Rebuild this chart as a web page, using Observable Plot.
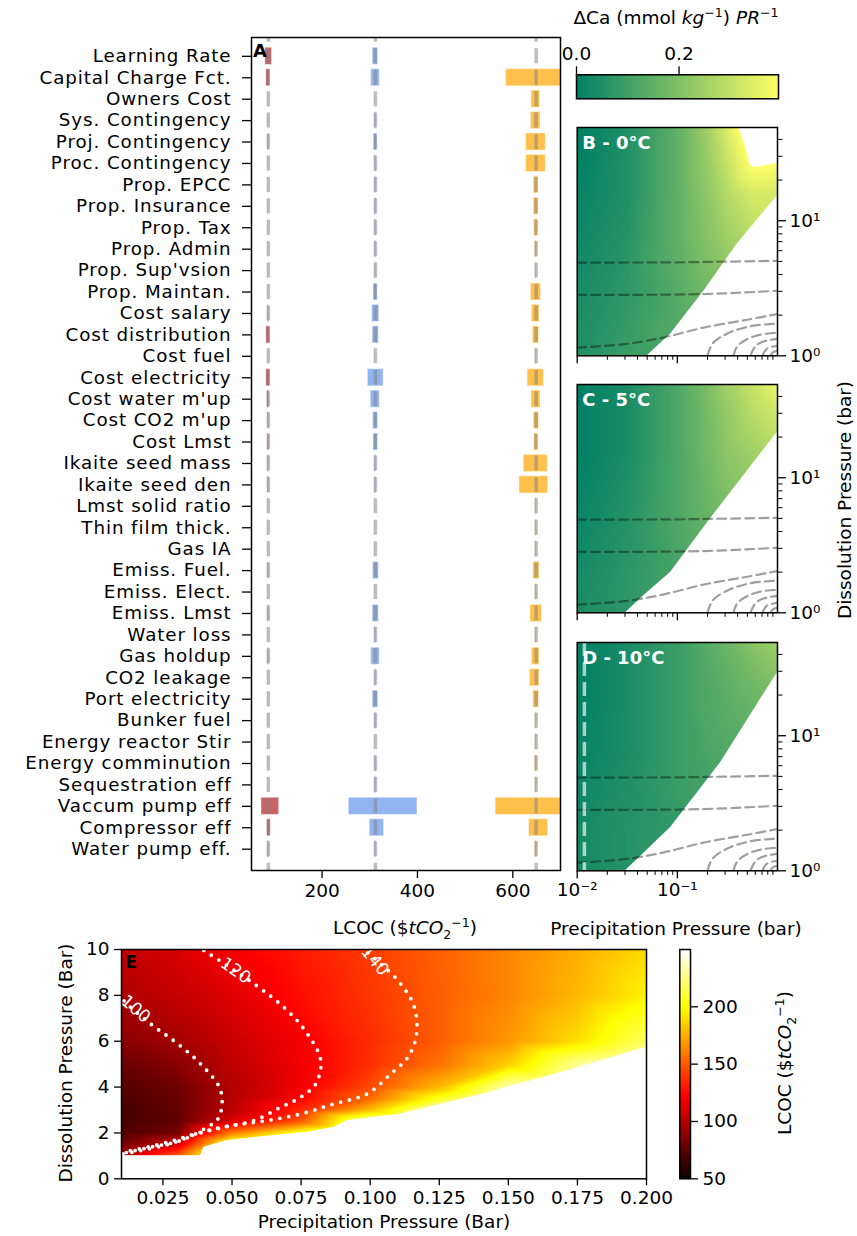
<!DOCTYPE html>
<html><head><meta charset="utf-8">
<script src="https://cdn.jsdelivr.net/npm/d3@7"></script>
<script src="https://cdn.jsdelivr.net/npm/@observablehq/plot@0.6"></script>
<style>
body{margin:0;background:white;}
#fig{position:relative;width:857px;height:1236px;font-family:"DejaVu Sans";color:black;overflow:hidden;background:white;}
#fig svg{position:absolute;}
.lab{position:absolute;font-size:18.5px;white-space:nowrap;transform:translate(-50%,-50%);line-height:1;}
.rot{transform:translate(-50%,-50%) rotate(-90deg);}
.lab sub,.lab sup{font-size:68%;}
.pa g[aria-label="y-axis tick label"] text{letter-spacing:0.9px;}
</style></head><body><div id="fig"></div>
<script>
// ---------------- Panel A data ----------------
const categories = ["Learning Rate","Capital Charge Fct.","Owners Cost","Sys. Contingency","Proj. Contingency","Proc. Contingency","Prop. EPCC","Prop. Insurance","Prop. Tax","Prop. Admin","Prop. Sup'vsion","Prop. Maintan.","Cost salary","Cost distribution","Cost fuel","Cost electricity","Cost water m'up","Cost CO2 m'up","Cost Lmst","Ikaite seed mass","Ikaite seed den","Lmst solid ratio","Thin film thick.","Gas IA","Emiss. Fuel.","Emiss. Elect.","Emiss. Lmst","Water loss","Gas holdup","CO2 leakage","Port electricity","Bunker fuel","Energy reactor Stir","Energy comminution","Sequestration eff","Vaccum pump eff","Compressor eff","Water pump eff."];
const baselines = [87.4, 311.8, 648.9];
const redLow  = [81,83,87.2,87.2,86.3,87.2,87.2,87.2,87.2,87.2,87.2,87.2,86.3,83,87.2,83,85,86.3,86,86.3,86.3,87.2,87.2,87.2,86.3,87.2,86.3,87.2,86.3,87.2,87.2,87.2,87.2,87.2,87.2,73,85,86.3];
const redHigh = [95,91,87.6,87.6,88.5,87.6,87.6,87.6,87.6,87.6,87.6,87.6,88.5,91,87.6,91,89,88.5,89,88.5,88.5,87.6,87.6,87.6,88.5,87.6,88.5,87.6,88.5,87.6,87.6,87.6,87.6,87.6,87.6,110,92,88.5];
const blueLow  = [306,303,311.6,310.5,308.5,310.5,310.5,310.5,310.5,310.5,311,308,305,306,311.6,296,302,307,308,310.5,310.5,311.6,311.6,311.6,307,311.6,306,310.5,303,310.5,306,310.5,311.6,310.5,310.5,256,300,310.5];
const blueHigh = [317,321,312,313.5,315.5,313.5,313.5,313.5,313.5,313.5,313,316,320,319,312,329,321,317,317,313.5,313.5,312,312,312,319,312,319,313.5,321,313.5,317.5,313.5,312,313.5,313.5,400,330,313.5];
const orangeLow  = [648.7,586,639,638,628,628,644,644,645,647,648,638,640,642,648,631,639,644,645,623,614,648,648,648,643,648,637,648,640,636,643,648,648,647,648,564,634,647];
const orangeHigh = [649.1,720,657,658,669,669,653,653,652,651,650,659,656,655,650,665,658,655,652,673,674,650.5,650.5,650.5,656,650.5,661,650.5,656,656,655,650.5,650.5,651,650.5,720,674,651];
const aTicks = [200, 400, 600];

// ---------------- Panels B-D data (ΔCa field, sampled on a log grid) ----------------
const gridX = [0.01, 0.0316, 0.1, 0.178, 0.316, 0.562, 1];
const gridY = [1, 2, 4, 7.9, 15.8, 28.2, 49];
const valuesB = [
  [0.05,0.09,0.12,0.14,0.16,0.17,0.18],
  [0.04,0.08,0.13,0.16,0.19,0.21,0.22],
  [0.03,0.07,0.14,0.18,0.22,0.25,0.27],
  [0.02,0.06,0.15,0.20,0.25,0.29,0.31],
  [0.01,0.05,0.15,0.21,0.28,0.33,0.33],
  [0.00,0.05,0.15,0.22,0.31,0.41,0.40],
  [0.00,0.05,0.15,0.23,0.34,0.46,0.50]];
const valuesC = [
  [0.04,0.07,0.10,0.12,0.13,0.14,0.14],
  [0.03,0.07,0.11,0.13,0.15,0.17,0.18],
  [0.02,0.06,0.12,0.15,0.18,0.20,0.21],
  [0.01,0.05,0.12,0.16,0.20,0.22,0.24],
  [0.00,0.04,0.12,0.17,0.22,0.25,0.28],
  [0.00,0.04,0.12,0.17,0.23,0.28,0.32],
  [0.00,0.04,0.12,0.18,0.25,0.31,0.37]];
const valuesD = [
  [0.03,0.06,0.07,0.08,0.09,0.09,0.09],
  [0.03,0.06,0.08,0.09,0.10,0.11,0.11],
  [0.02,0.05,0.09,0.10,0.12,0.13,0.13],
  [0.01,0.04,0.09,0.11,0.13,0.14,0.15],
  [0.00,0.04,0.09,0.12,0.14,0.16,0.18],
  [0.00,0.04,0.09,0.12,0.15,0.18,0.21],
  [0.00,0.04,0.09,0.13,0.17,0.21,0.25]];
const boundaryB = [[0.0501,1],[0.0857,1.45],[0.1845,3.02],[0.398,6.76],[1,15.3]];
const boundaryC = [[0.0304,1],[0.0447,1.31],[0.0857,2.0],[0.215,4.99],[1,21.8]];
const boundaryD = [[0.0304,1],[0.0857,2.09],[0.271,6.34],[1,29.4]];
const isoLine1 = [[0.01,4.9],[0.1,4.92],[0.3,4.98],[1,5.05]];
const isoLine2 = [[0.01,2.83],[0.1,2.84],[0.3,2.9],[0.6,2.97],[1,3.03]];
const isoLine3 = [[0.01,1.15],[0.03,1.22],[0.0735,1.37],[0.185,1.62],[0.5,1.85],[1,2.04]];
const isoArc4 = [[0.2,1],[0.2254,1.233],[0.32,1.47],[0.54,1.656],[1,1.73]];
const isoArc5 = [[0.363,1],[0.392,1.162],[0.489,1.32],[0.679,1.436],[1,1.48]];
const isoArc6 = [[0.537,1],[0.58,1.13],[0.644,1.227],[0.8,1.3],[1,1.337]];
const isoArc7 = [[0.708,1],[0.783,1.129],[1,1.186]];
const isoArc8 = [[0.851,1],[0.9,1.06],[1,1.089]];
const dLineX = [0.0118];
const bcdXMajor = [0.01, 0.1], bcdXLabels = ["10\u207B\u00B2", "10\u207B\u00B9"];
const bcdXMinor = [0.02,0.03,0.04,0.05,0.06,0.07,0.08,0.09,0.2,0.3,0.4,0.5,0.6,0.7,0.8,0.9];
const bcdYMajor = [1, 10], bcdYLabels = ["10\u2070", "10\u00B9"];
const bcdYMinor = [2,3,4,5,6,7,8,9,20,30,40];
const cbTopTicks = [0.0, 0.2];

// ---------------- Panel E data (LCOC field) ----------------
const eGridX = [0.01, 0.03, 0.05, 0.075, 0.1, 0.125, 0.15, 0.175, 0.2];
const eGridY = [1, 1.5, 2, 2.5, 3, 3.5, 4, 5, 6, 8, 10];
const eValues = [
  [ 95,150,235,245,245,245,245,245,245],
  [ 80,110,215,245,245,245,245,245,245],
  [ 70, 82,160,205,245,245,245,245,245],
  [ 68, 76,112,150,235,245,245,245,245],
  [ 68, 76,103,134,180,245,245,245,245],
  [ 70, 78,101,123,156,205,245,245,245],
  [ 72, 80,100,120,145,178,235,245,245],
  [ 78, 88,104,120,137,157,185,228,245],
  [ 88, 96,107,121,136,151,168,190,218],
  [ 99,106,114,127,139,151,163,178,196],
  [105,112,121,131,141,152,163,175,188]];
const boundaryE = [[0.01,1],[0.0386,1],[0.0398,1.38],[0.0483,1.67],[0.0652,1.89],[0.0773,2.03],[0.087,2.25],[0.0918,2.54],[0.111,2.83],[0.1413,3.71],[0.1716,4.72],[0.2,5.74]];
const contour100 = [[0.0095,8.1],[0.0103,7.85],[0.0205,6.76],[0.0296,5.96],[0.0387,5.0],[0.0459,3.85],[0.0453,2.69],[0.041,2.25],[0.0314,1.67],[0.0205,1.38],[0.0108,1.12]];
const contour120 = [[0.0398,9.96],[0.058,8.5],[0.070,7.34],[0.0773,6.32],[0.0821,5.16],[0.0803,4.14],[0.0749,3.56],[0.0676,3.12],[0.058,2.54],[0.0471,2.25],[0.0374,1.96],[0.0277,1.53],[0.0169,1.23],[0.0105,1.08]];
const contour140 = [[0.0967,10.1],[0.11,8.65],[0.116,7.48],[0.1166,6.18],[0.1136,5.3],[0.1075,4.58],[0.099,3.71],[0.087,3.27],[0.0749,2.83],[0.0628,2.54],[0.0495,2.32],[0.0386,2.03],[0.0289,1.67],[0.0193,1.38],[0.012,1.2]];
const contourLabels = ["100","120","140"];
const contourLabelX = [0.0151, 0.0513, 0.1017];
const contourLabelY = [7.4, 9.08, 9.5];
const contourLabelAngle = [40, 35, 50];
const eXTicks = [0.025,0.05,0.075,0.1,0.125,0.15,0.175,0.2];
const eYTicks = [0,2,4,6,8,10];
const cbETicks = [50,100,150,200];

// ---------------- colormaps ----------------
const summer = t => { if (t > 1.0005) return "white"; t = Math.max(0, Math.min(1, t));
  return `rgb(${Math.round(255*t)},${Math.round(255*(0.5+0.5*t))},102)`; };
const hot = t => { t = Math.max(0, Math.min(1, t));
  const r = Math.min(1, 0.0416 + t/0.365*0.9584), g = Math.max(0, Math.min(1,(t-0.365)/0.381)), b = Math.max(0, Math.min(1,(t-0.746)/0.254));
  return `rgb(${Math.round(r*255)},${Math.round(g*255)},${Math.round(b*255)})`; };

const fig = document.getElementById("fig");
const baseStyle = {fontFamily: "DejaVu Sans", fontSize: "18.5px", background: "transparent", overflow: "visible", color: "black"};
function place(svg, left, top) { svg.style.left = left + "px"; svg.style.top = top + "px"; fig.appendChild(svg); }
function label(html, x, y, cls = "", extra = "") { const d = document.createElement("div"); d.className = "lab " + cls; d.innerHTML = html; d.style.left = x + "px"; d.style.top = y + "px"; if (extra) d.style.cssText += extra; fig.appendChild(d); }

// ---------------- Panel A ----------------
const rows = (lo, hi) => categories.map((c, i) => ({c, lo: lo[i], hi: hi[i]}));
const barOpts = (fill) => ({x1: "lo", x2: "hi", y: "c", fill, fillOpacity: 0.7, stroke: "white", strokeOpacity: 0.4, strokeWidth: 1, clip: true});
const plotA = Plot.plot({
  className: "pa",
  width: 570, height: 940, marginLeft: 251, marginRight: 10, marginTop: 37, marginBottom: 70,
  style: baseStyle,
  x: {domain: [52, 700]},
  y: {domain: categories, range: [45.1, 859.4], paddingInner: 0.2, paddingOuter: 0.1, round: false},
  marks: [
    Plot.barX(rows(redLow, redHigh), barOpts("#B22222")),
    Plot.barX(rows(blueLow, blueHigh), barOpts("#6495ED")),
    Plot.barX(rows(orangeLow, orangeHigh), barOpts("#FFA500")),
    Plot.ruleX(baselines, {stroke: "gray", strokeOpacity: 0.5, strokeWidth: 3.5, strokeDasharray: "15,6.43", strokeDashoffset: 10.13}),
    Plot.frame({stroke: "black", strokeWidth: 1.5}),
    Plot.axisY({anchor: "left", tickSize: 9, tickPadding: 11, fontSize: 18.3, label: null, strokeWidth: 1.3}),
    Plot.axisX({ticks: aTicks, tickSize: 8, tickPadding: 5, label: null, tickFormat: d => String(d), strokeWidth: 1.3})
  ]
});
place(plotA, 0, 0);
label("<b>A</b>", 260, 51, "", "font-size:18px;");

// ---------------- top colorbar ----------------
const cbTop = Plot.plot({
  width: 297, height: 115, marginLeft: 16, marginRight: 79, marginTop: 74.3, marginBottom: 16.7,
  style: baseStyle,
  x: {domain: [0, 0.394]}, y: {domain: [0, 1], axis: null},
  color: {type: "linear", domain: [0, 0.394], interpolate: summer},
  marks: [
    Plot.raster({fill: (x, y) => x, x1: 0, x2: 0.394, y1: 0, y2: 1}),
    Plot.frame({stroke: "black", strokeWidth: 1.5}),
    Plot.axisX({anchor: "top", ticks: cbTopTicks, tickSize: 9, tickPadding: 6, tickFormat: d3.format(".1f"), label: null, strokeWidth: 1.3})
  ]
});
place(cbTop, 560, 0);
label("ΔCa (mmol <i>kg</i><sup>−1</sup>) <i>PR</i><sup>−1</sup>", 676, 17);

// ---------------- Panels B, C, D ----------------
const isoLines = [isoLine1, isoLine2, isoLine3, isoArc4, isoArc5, isoArc6, isoArc7, isoArc8];
function tempPanel(values, boundary, tag, frameTop, showX, vline) {
  const pts = gridY.flatMap((yv, i) => gridX.map((xv, j) => ({x: xv, y: yv, v: values[i][j]})));
  const marks = [
    Plot.raster(pts, {x: "x", y: "y", fill: "v", interpolate: "barycentric"}),
    Plot.areaY(boundary, {x: d => d[0], y1: 1, y2: d => d[1], fill: "white"}),
    ...isoLines.map(l => Plot.line(l, {x: d => d[0], y: d => d[1], stroke: "black", strokeOpacity: 0.38, strokeWidth: 2.2, strokeDasharray: "9,5", curve: "catmull-rom", clip: true}))
  ];
  if (vline) marks.push(Plot.ruleX(vline, {stroke: "white", strokeOpacity: 0.65, strokeWidth: 3.5, strokeDasharray: "14,6"}));
  marks.push(
    Plot.text([tag], {frameAnchor: "top-left", dx: 5, dy: 9, fill: "white", fontWeight: "bold", fontSize: 18}),
    Plot.frame({stroke: "black", strokeWidth: 1.5}),
    Plot.axisX({ticks: bcdXMajor, tickSize: 8, tickPadding: 4, label: null, strokeWidth: 1.3, tickFormat: d => showX ? bcdXLabels[bcdXMajor.indexOf(d)] : ""}),
    Plot.axisX({ticks: bcdXMinor, tickSize: 4.5, label: null, strokeWidth: 1, tickFormat: () => ""}),
    Plot.axisY({anchor: "right", ticks: bcdYMajor, tickSize: 8, tickPadding: 4, label: null, strokeWidth: 1.3, tickFormat: d => bcdYLabels[bcdYMajor.indexOf(d)]}),
    Plot.axisY({anchor: "right", ticks: bcdYMinor, tickSize: 4.5, label: null, strokeWidth: 1, tickFormat: () => ""})
  );
  const p = Plot.plot({
    width: 297, height: 10 + 228.3 + 45, marginLeft: 16.7, marginRight: 80, marginTop: 10, marginBottom: 45,
    style: baseStyle,
    x: {type: "log", domain: [0.01, 1]}, y: {type: "log", domain: [1, 49]},
    color: {type: "linear", domain: [0, 0.394], interpolate: summer},
    marks
  });
  place(p, 560, frameTop - 10);
}
tempPanel(valuesB, boundaryB, "B - 0°C", 126.5, false, null);
tempPanel(valuesC, boundaryC, "C - 5°C", 384.2, false, null);
tempPanel(valuesD, boundaryD, "D - 10°C", 641.7, true, dLineX);
label("Dissolution Pressure (bar)", 845, 500, "rot");
label("Precipitation Pressure (bar)", 676, 929);
label("LCOC ($<i>tCO</i><sub>2</sub><sup>−1</sup>)", 405, 929);

// ---------------- Panel E ----------------
const ePts = eGridY.flatMap((yv, i) => eGridX.map((xv, j) => ({x: xv, y: yv, v: eValues[i][j]})));
const dotted = {x: d => d[0], y: d => d[1], stroke: "white", strokeWidth: 3.8, strokeDasharray: "0,9", strokeLinecap: "round", curve: "catmull-rom", clip: true};
const plotE = Plot.plot({
  width: 660, height: 336, marginLeft: 121, marginRight: 14, marginTop: 49, marginBottom: 57.7,
  style: baseStyle,
  x: {domain: [0.01, 0.2]}, y: {domain: [0, 10]},
  color: {type: "linear", domain: [50, 250], interpolate: hot},
  marks: [
    Plot.raster(ePts, {x: "x", y: "y", fill: "v", interpolate: "barycentric"}),
    Plot.areaY(boundaryE, {x: d => d[0], y1: 0, y2: d => d[1], fill: "white"}),
    Plot.line(contour100, dotted),
    Plot.line(contour120, dotted),
    Plot.line(contour140, dotted),
    Plot.text(contourLabels, {x: (d, i) => contourLabelX[i], y: (d, i) => contourLabelY[i], text: d => d, rotate: (d, i) => contourLabelAngle[i], fill: "white", fontSize: 17, clip: true}),
    Plot.text(["E"], {frameAnchor: "top-left", dx: 4, dy: 6, fill: "black", fontWeight: "bold", fontSize: 17}),
    Plot.frame({stroke: "black", strokeWidth: 1.5}),
    Plot.axisX({ticks: eXTicks, tickSize: 7, tickPadding: 5, label: null, strokeWidth: 1.3, tickFormat: d3.format(".3f")}),
    Plot.axisY({ticks: eYTicks, tickSize: 7, tickPadding: 5, label: null, strokeWidth: 1.3, tickFormat: d => String(d)})
  ]
});
place(plotE, 0, 900);
label("Precipitation Pressure (Bar)", 384, 1222);
label("Dissolution Pressure (Bar)", 66, 1063, "rot");

// ---------------- E colorbar ----------------
const cbE = Plot.plot({
  width: 197, height: 336, marginLeft: 19.3, marginRight: 167, marginTop: 49, marginBottom: 57.7,
  style: baseStyle,
  x: {domain: [0, 1], axis: null}, y: {domain: [50, 250]},
  color: {type: "linear", domain: [50, 250], interpolate: hot},
  marks: [
    Plot.raster({fill: (x, y) => y, x1: 0, x2: 1, y1: 50, y2: 250}),
    Plot.frame({stroke: "black", strokeWidth: 1.5}),
    Plot.axisY({anchor: "right", ticks: cbETicks, tickSize: 7, tickPadding: 5, label: null, strokeWidth: 1.3, tickFormat: d => String(d)})
  ]
});
place(cbE, 660, 900);
label("LCOC ($<i>tCO</i><sub>2</sub><sup>−1</sup>)", 786, 1063, "rot");
</script></body></html>
